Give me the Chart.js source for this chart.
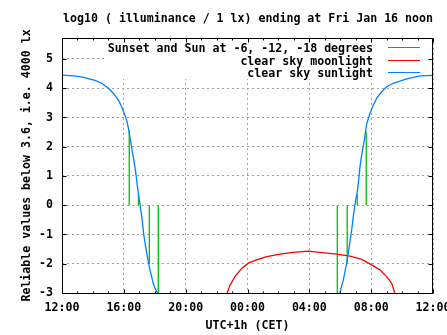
<!DOCTYPE html>
<html>
<head>
<meta charset="utf-8">
<script src="https://cdn.jsdelivr.net/npm/chart.js@4/dist/chart.umd.min.js"></script>
<style>
  html, body { margin: 0; padding: 0; background: #fff; }
  #wrap { width: 447px; height: 335px; }
</style>
</head>
<body>
<div id="wrap"><canvas id="c" width="447" height="335"></canvas></div>
<script>
// ---- data (hours counted from Thu 12:00; 24 = midnight, 36 = Fri noon) ----
const chartTitle = 'log10 ( illuminance / 1 lx) ending at Fri Jan 16 noon';
const xTitle = 'UTC+1h (CET)';
const yTitle = 'Reliable values below 3.6, i.e. 4000 lx';

const xTickHours  = [12, 16, 20, 24, 28, 32, 36];
const xTickLabels = ['12:00', '16:00', '20:00', '00:00', '04:00', '08:00', '12:00'];
const yTickValues = [-3, -2, -1, 0, 1, 2, 3, 4, 5];
const yTickLabels = ['-3', '-2', '-1', '0', '1', '2', '3', '4', '5'];

const seriesLabels = [
  'Sunset and Sun at -6, -12, -18 degrees',
  'clear sky moonlight',
  'clear sky sunlight'
];

// Sunset and Sun at -6, -12, -18 degrees (impulses from 0)
const eventHours  = [16.35, 16.95, 17.65, 18.23, 29.81, 30.45, 31.10, 31.68];
const eventValues = [2.57, 0.38, -2.0, -3.3, -3.3, -1.97, 0.38, 2.52];

// clear sky moonlight
const moonHours  = [22.6, 22.69, 22.87, 23.19, 23.62, 24.05, 24.59, 25.24, 26.1, 26.96, 27.93,
                    28.69, 29.77, 30.63, 31.39, 32.03, 32.57, 33.0, 33.33, 33.5, 33.55];
const moonValues = [-3.2, -2.99, -2.73, -2.44, -2.16, -1.98, -1.87, -1.76, -1.67, -1.61, -1.57,
                    -1.61, -1.67, -1.74, -1.85, -2.04, -2.21, -2.44, -2.67, -2.95, -3.2];

// clear sky sunlight
const sunHours  = [12.0, 12.8, 13.4, 13.7, 14.13, 14.57, 15.0, 15.32, 15.64, 15.86, 16.03, 16.18,
                   16.29, 16.35, 16.4, 16.5, 16.6, 16.71, 16.8, 16.87, 16.95, 17.0, 17.08, 17.16,
                   17.23, 17.3, 17.4, 17.48, 17.58, 17.69, 17.8, 17.9, 18.03, 18.16, 18.25,
                   29.85, 29.98, 30.1, 30.2, 30.3, 30.42, 30.5, 30.58, 30.66, 30.74, 30.84, 30.92,
                   31.0, 31.1, 31.17, 31.28, 31.35, 31.43, 31.55, 31.63, 31.71, 31.81, 31.92,
                   32.14, 32.36, 32.68, 33.0, 33.43, 33.86, 34.19, 34.8, 35.16, 36.0];
const sunValues = [4.45, 4.42, 4.37, 4.33, 4.27, 4.17, 4.0, 3.83, 3.6, 3.37, 3.14, 2.91,
                   2.65, 2.5, 2.3, 2.0, 1.68, 1.33, 1.0, 0.68, 0.38, 0.18, -0.1, -0.39,
                   -0.72, -1.05, -1.38, -1.64, -1.92, -2.21, -2.45, -2.67, -2.85, -2.99, -3.15,
                   -3.2, -2.99, -2.75, -2.56, -2.28, -1.98, -1.7, -1.42, -1.13, -0.85, -0.39, -0.1,
                   0.18, 0.45, 0.75, 1.32, 1.6, 1.85, 2.2, 2.5, 2.78, 2.95, 3.14,
                   3.43, 3.66, 3.88, 4.05, 4.17, 4.24, 4.3, 4.38, 4.42, 4.44];

// ---- build library data ----
const FONT = '"DejaVu Sans Mono", "Liberation Mono", monospace';
const FS = 11.6;
const LW = 1.3;

const impulseData = [];
eventHours.forEach((h, i) => {
  impulseData.push({x: h, y: 0}, {x: h, y: eventValues[i]}, {x: h, y: null});
});
const moonData = moonHours.map((h, i) => ({x: h, y: moonValues[i]}));
const sunData = sunHours.map((h, i) => ({x: h, y: sunValues[i]}));

const gnuplotFrame = {
  id: 'gnuplotFrame',
  beforeDatasetsDraw(chart) {
    // opaque key area
    const {ctx, chartArea: a} = chart;
    ctx.save();
    ctx.font = 'bold ' + FS + 'px ' + FONT;
    let w = 0;
    chart.data.datasets.forEach(d => { w = Math.max(w, ctx.measureText(d.label).width); });
    const textRight = a.right - 60;
    const left = Math.round(textRight - w - 2);
    ctx.fillStyle = '#ffffff';
    ctx.fillRect(left, Math.round(a.top) + 1, Math.round(a.right) - left - 1, 40);
    ctx.restore();
  },
  afterDraw(chart) {
    const {ctx, chartArea: a, scales: {x, y}} = chart;
    const L = Math.round(a.left) + 0.5, R = Math.round(a.right) - 0.5;
    const T = Math.round(a.top) + 0.5, B = Math.round(a.bottom) + 0.5;
    ctx.save();
    ctx.strokeStyle = '#000';
    ctx.lineWidth = 1;
    ctx.beginPath();
    // x ticks (major from scale ticks, minor every hour)
    const majors = x.ticks.map(t => t.value);
    for (let h = Math.ceil(x.min); h <= x.max; h++) {
      const px = Math.round(x.getPixelForValue(h)) + 0.5;
      const len = majors.includes(h) ? 4 : 2;
      ctx.moveTo(px, B); ctx.lineTo(px, B - len);
      ctx.moveTo(px, T); ctx.lineTo(px, T + len);
    }
    y.ticks.forEach(t => {
      const py = Math.round(y.getPixelForValue(t.value)) + 0.5;
      ctx.moveTo(L, py); ctx.lineTo(L + 4, py);
      ctx.moveTo(R, py); ctx.lineTo(R - 4, py);
    });
    ctx.stroke();
    ctx.strokeRect(L, T, R - L, B - T);

    // key
    ctx.font = 'bold ' + FS + 'px ' + FONT;
    ctx.textAlign = 'right';
    ctx.textBaseline = 'middle';
    ctx.fillStyle = '#000';
    const textRight = a.right - 60;
    chart.data.datasets.forEach((d, i) => {
      const ry = Math.round(a.top + 9 + i * 12.7) + 0.5;
      ctx.fillText(d.label, textRight, ry + 1);
      ctx.strokeStyle = d.borderColor;
      ctx.beginPath();
      ctx.moveTo(a.right - 45, ry);
      ctx.lineTo(a.right - 13, ry);
      ctx.stroke();
    });
    ctx.restore();
  }
};

const gridDash = [2, 3];

new Chart(document.getElementById('c'), {
  type: 'line',
  data: {
    datasets: [
      { label: seriesLabels[0], data: impulseData, borderColor: '#00c000', backgroundColor: '#00c000',
        borderWidth: LW, pointRadius: 0, spanGaps: false, tension: 0, order: 2 },
      { label: seriesLabels[1], data: moonData, borderColor: '#ff0000', backgroundColor: '#ff0000',
        borderWidth: LW, pointRadius: 0, tension: 0, order: 1 },
      { label: seriesLabels[2], data: sunData, borderColor: '#0080ff', backgroundColor: '#0080ff',
        borderWidth: LW, pointRadius: 0, tension: 0, order: 0 }
    ]
  },
  options: {
    responsive: false,
    animation: false,
    events: [],
    layout: { padding: { left: 0, right: 14, top: 0, bottom: 0 } },
    plugins: {
      legend: { display: false },
      tooltip: { enabled: false },
      title: {
        display: true, text: chartTitle, align: 'end', color: '#000',
        font: { family: FONT, size: FS, weight: 'bold' },
        padding: { top: 12, bottom: 12 }
      }
    },
    scales: {
      x: {
        type: 'linear', min: 12, max: 36,
        afterBuildTicks: s => { s.ticks = xTickHours.map(v => ({ value: v })); },
        afterFit: s => { s.height = 42; s.paddingLeft = 0; s.paddingRight = 0; },
        ticks: {
          autoSkip: false, maxRotation: 0, padding: 8, color: '#000',
          font: { family: FONT, size: FS, weight: 'bold' },
          callback: (v, i) => xTickLabels[i]
        },
        grid: { color: '#a0a0a0', lineWidth: 1, drawTicks: false, borderDash: gridDash },
        border: { display: false, dash: gridDash },
        title: {
          display: true, text: xTitle, color: '#000',
          font: { family: FONT, size: FS, weight: 'bold' },
          padding: { top: 4, bottom: 2 }
        }
      },
      y: {
        type: 'linear', min: -3, max: 5.72,
        afterBuildTicks: s => { s.ticks = yTickValues.map(v => ({ value: v })); },
        afterFit: s => { s.width = 62; s.paddingTop = 0; s.paddingBottom = 0; },
        ticks: {
          padding: 9, color: '#000',
          font: { family: FONT, size: FS, weight: 'bold' },
          callback: (v, i) => yTickLabels[i]
        },
        grid: { color: '#a0a0a0', lineWidth: 1, drawTicks: false, borderDash: gridDash },
        border: { display: false, dash: gridDash },
        title: {
          display: true, text: yTitle, color: '#000',
          font: { family: FONT, size: FS, weight: 'bold' },
          padding: { top: 20, bottom: 0 }
        }
      }
    }
  },
  plugins: [gnuplotFrame]
});
</script>
</body>
</html>
